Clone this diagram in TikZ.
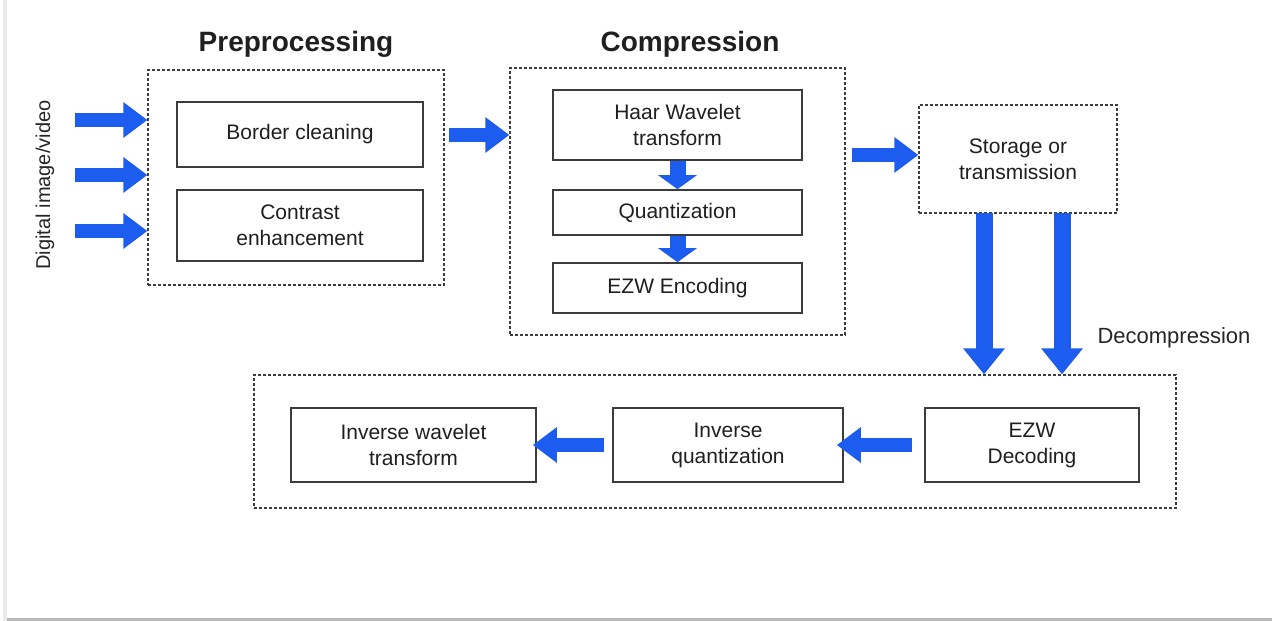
\documentclass[tikz,border=0pt]{standalone}
\usepackage{fontspec}
\setmainfont{Liberation Sans}
\usetikzlibrary{arrows.meta}
\definecolor{arrowblue}{RGB}{28,92,238}
\definecolor{boxgray}{RGB}{60,60,60}
\tikzset{
  solidbox/.style={draw=boxgray, line width=1.6pt, fill=white, align=center, font=\fontsize{21}{26}\selectfont, inner sep=0pt, text=black!88},
  dashbox/.style={draw=boxgray, line width=1.2pt, dash pattern=on 3pt off 2pt, inner sep=0pt},
  bluearrow/.style={draw=arrowblue, line width=14pt, -{Triangle[length=24pt,width=34pt]}},
  title/.style={font=\fontsize{28}{32}\selectfont\bfseries, text=black!88},
  lbl/.style={font=\fontsize{22}{26}\selectfont, text=black!85},
}
\begin{document}
\begin{tikzpicture}[x=1pt,y=-1pt]
\useasboundingbox (0,0) rectangle (1272,621);
\fill[white] (0,0) rectangle (1272,621);
% screenshot edges
\fill[black!8] (3,0) rectangle (7,621);
\fill[black!28] (7,618) rectangle (1272,621);

% Preprocessing
\node[title] (tpre) at (296,44) {Preprocessing};
\node[dashbox, minimum width=296pt, minimum height=215pt] (pre) at (296,177.5) {};
\node[solidbox, minimum width=246pt, minimum height=65pt] (border) at (300,134.5) {Border cleaning};
\node[solidbox, minimum width=246pt, minimum height=71pt] (contrast) at (300,225.5) {Contrast\\enhancement};

% input
\node[lbl, font=\fontsize{20}{24}\selectfont, rotate=90] (input) at (45,185) {Digital image/video};
\coordinate (in1) at (75,120);
\coordinate (in2) at (75,175);
\coordinate (in3) at (75,231);
\draw[bluearrow] (in1) -- (pre.west |- in1);
\draw[bluearrow] (in2) -- (pre.west |- in2);
\draw[bluearrow] (in3) -- (pre.west |- in3);

% Compression
\node[title] (tcomp) at (690,44) {Compression};
\node[dashbox, minimum width=335pt, minimum height=267pt] (comp) at (677.5,201.5) {};
\node[solidbox, minimum width=249pt, minimum height=70pt] (haar) at (677.5,125) {Haar Wavelet\\transform};
\node[solidbox, minimum width=249pt, minimum height=45pt] (quant) at (677.5,212.5) {Quantization};
\node[solidbox, minimum width=249pt, minimum height=50pt] (ezwenc) at (677.5,288) {EZW Encoding};
\draw[draw=arrowblue, line width=16pt, -{Triangle[length=14pt,width=38pt]}] (haar) -- (quant);
\draw[draw=arrowblue, line width=16pt, -{Triangle[length=14pt,width=38pt]}] (quant) -- (ezwenc);

\draw[bluearrow] ([xshift=4pt]pre.east |- 0,135) -- (comp.west |- 0,135);

% Storage
\node[dashbox, minimum width=198pt, minimum height=108pt, align=center, font=\fontsize{21}{26}\selectfont, text=black!88] (store) at (1018,159) {Storage or\\transmission};
\draw[bluearrow] ([xshift=6pt]comp.east |- 0,155) -- (store.west |- 0,155);

% Decompression
\node[dashbox, minimum width=922pt, minimum height=133pt] (decomp) at (715,441.5) {};
\node[lbl, anchor=west] (tdec) at (1094,338) {Decompression};
\coordinate (d1) at (984,213);
\coordinate (d2) at (1062,213);
\draw[bluearrow, line width=17pt, -{Triangle[length=26pt,width=40pt]}] (d1) -- (d1 |- decomp.north);
\draw[bluearrow, line width=17pt, -{Triangle[length=26pt,width=40pt]}] (d2) -- (d2 |- decomp.north);

\node[solidbox, minimum width=214pt, minimum height=74pt] (ezwdec) at (1032,445) {EZW\\Decoding};
\node[solidbox, minimum width=230pt, minimum height=74pt] (iquant) at (728,445) {Inverse\\quantization};
\node[solidbox, minimum width=245pt, minimum height=74pt] (iwave) at (413.5,445) {Inverse wavelet\\transform};
\draw[bluearrow] ([xshift=-12pt]ezwdec.west) -- ([xshift=-7pt]iquant.east);
\draw[bluearrow] ([xshift=-8pt]iquant.west) -- ([xshift=-4pt]iwave.east);
\end{tikzpicture}
\end{document}
